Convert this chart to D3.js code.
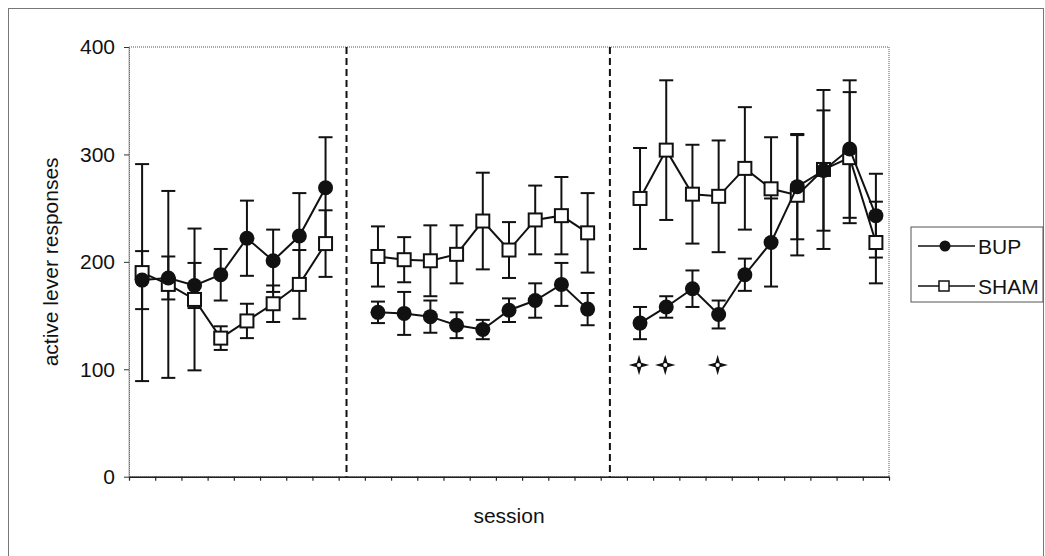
<!DOCTYPE html>
<html>
<head>
<meta charset="utf-8">
<script src="https://cdn.jsdelivr.net/npm/d3@7"></script>
<style>
  body { margin: 0; background: #fff; }
  text { font-family: "Liberation Sans", Arial, sans-serif; }
</style>
</head>
<body>
<svg width="1045" height="556"></svg>
<script>
// sessions 0..28, gaps (null) at 8 and 18 between the three phases
let bup = [183, 185, 178, 188, 222, 201, 224, 269, null,
  153, 152, 149, 141, 137, 155, 164, 179, 156, null,
  143, 158, 175, 151, 188, 218, 270, 285, 305, 243];
let bupErr = [27, 20, 21, 24, 35, 29, 40, 47, null,
  10, 20, 15, 12, 9, 11, 16, 20, 15, null,
  15, 10, 17, 13, 15, 41, 49, 56, 64, 39];
let sham = [190, 179, 165, 129, 145, 161, 179, 217, null,
  205, 202, 201, 207, 238, 211, 239, 243, 227, null,
  259, 304, 263, 261, 287, 268, 262, 286, 297, 218];
let shamErr = [101, 87, 66, 11, 16, 17, 32, 31, null,
  28, 21, 33, 27, 45, 26, 32, 36, 37, null,
  47, 65, 46, 52, 57, 48, 56, 74, 61, 38];
let dividers = [8.3, 18.35];
let sigSessions = [19, 20, 22];
let sigLevel = 104;
let yTicks = [0, 100, 200, 300, 400];
let seriesNames = ["BUP", "SHAM"];

let svg = d3.select("svg");
let margin = {top: 47, left: 129};
let width = 760, height = 429.7;
let nSessions = bup.length;

// outer frame
svg.append("rect")
  .attr("x", 8.5).attr("y", 8.5)
  .attr("width", 1035).attr("height", 570)
  .attr("fill", "none").attr("stroke", "#777").attr("stroke-width", 1);

let x = d3.scaleLinear().domain([0, nSessions]).range([margin.left, margin.left + width]);
let y = d3.scaleLinear().domain([0, 400]).range([margin.top + height, margin.top]);

// plot border (dotted)
svg.append("rect")
  .attr("x", x(0)).attr("y", y(400))
  .attr("width", width).attr("height", height)
  .attr("fill", "none").attr("stroke", "#555")
  .attr("stroke-width", 1).attr("stroke-dasharray", "1,1");

svg.append("g")
  .attr("transform", `translate(0,${y(0)})`)
  .call(d3.axisBottom(x).tickValues(d3.range(nSessions + 1)).tickFormat("")
    .tickSize(4).tickSizeOuter(0))
  .call(g => g.selectAll("line").attr("stroke", "#222").attr("stroke-width", 1.2))
  .call(g => g.select(".domain").attr("stroke", "#222").attr("stroke-width", 1.5));

svg.append("g")
  .attr("transform", `translate(${x(0)},0)`)
  .call(d3.axisLeft(y).tickValues(yTicks).tickSize(5).tickPadding(9).tickSizeOuter(0))
  .call(g => g.select(".domain").attr("stroke", "#555").attr("stroke-dasharray", "1,1"))
  .call(g => g.selectAll("line").attr("stroke", "#333"))
  .call(g => g.selectAll("text")
    .attr("font-family", "'Liberation Sans', Arial, sans-serif")
    .attr("font-size", 21).attr("fill", "#111"));

// phase dividers
svg.append("g")
  .selectAll("line").data(dividers).enter().append("line")
  .attr("x1", d => x(d)).attr("x2", d => x(d))
  .attr("y1", y(400)).attr("y2", y(0))
  .attr("stroke", "#111").attr("stroke-width", 2)
  .attr("stroke-dasharray", "7,4");

// axis titles
svg.append("text")
  .attr("x", x(nSessions / 2)).attr("y", 523)
  .attr("text-anchor", "middle").attr("font-size", 21).attr("fill", "#111")
  .text("session");

svg.append("text")
  .attr("transform", `translate(58,${y(200)}) rotate(-90)`)
  .attr("text-anchor", "middle").attr("font-size", 21).attr("fill", "#111")
  .text("active lever responses");

let toPoints = (vals, errs) => vals.map((v, i) => ({i, v, e: errs[i]}));
let bupPts = toPoints(bup, bupErr);
let shamPts = toPoints(sham, shamErr);

let line = d3.line()
  .defined(d => d.v != null)
  .x(d => x(d.i + 0.5))
  .y(d => y(d.v));

function errorBars(pts) {
  let g = svg.append("g").attr("stroke", "#111").attr("stroke-width", 2);
  let valid = pts.filter(d => d.v != null);
  g.selectAll(".stem").data(valid).enter().append("line")
    .attr("x1", d => x(d.i + 0.5)).attr("x2", d => x(d.i + 0.5))
    .attr("y1", d => y(d.v + d.e)).attr("y2", d => y(d.v - d.e));
  g.selectAll(".capT").data(valid).enter().append("line")
    .attr("x1", d => x(d.i + 0.5) - 7).attr("x2", d => x(d.i + 0.5) + 7)
    .attr("y1", d => y(d.v + d.e)).attr("y2", d => y(d.v + d.e));
  g.selectAll(".capB").data(valid).enter().append("line")
    .attr("x1", d => x(d.i + 0.5) - 7).attr("x2", d => x(d.i + 0.5) + 7)
    .attr("y1", d => y(d.v - d.e)).attr("y2", d => y(d.v - d.e));
}

errorBars(shamPts);
errorBars(bupPts);

// SHAM series: open squares
svg.append("path").datum(shamPts)
  .attr("d", line).attr("fill", "none")
  .attr("stroke", "#111").attr("stroke-width", 2);
svg.append("g")
  .selectAll("rect").data(shamPts.filter(d => d.v != null)).enter().append("rect")
  .attr("x", d => x(d.i + 0.5) - 6.5).attr("y", d => y(d.v) - 6.5)
  .attr("width", 13).attr("height", 13)
  .attr("fill", "#fff").attr("stroke", "#111").attr("stroke-width", 2);

// BUP series: filled circles
svg.append("path").datum(bupPts)
  .attr("d", line).attr("fill", "none")
  .attr("stroke", "#111").attr("stroke-width", 2);
svg.append("g")
  .selectAll("circle").data(bupPts.filter(d => d.v != null)).enter().append("circle")
  .attr("cx", d => x(d.i + 0.5)).attr("cy", d => y(d.v))
  .attr("r", 7.5).attr("fill", "#111");

// significance marks (4-point stars)
let star4 = {
  draw(ctx, size) {
    let r = Math.sqrt(size) / 2, k = r * 0.22;
    ctx.moveTo(0, -r);
    ctx.lineTo(k, -k); ctx.lineTo(r, 0); ctx.lineTo(k, k);
    ctx.lineTo(0, r); ctx.lineTo(-k, k); ctx.lineTo(-r, 0); ctx.lineTo(-k, -k);
    ctx.closePath();
  }
};
let sig = svg.append("g");
sig.selectAll("path").data(sigSessions).enter().append("path")
  .attr("transform", d => `translate(${x(d + 0.5) - 1},${y(sigLevel)})`)
  .attr("d", d3.symbol().type(star4).size(420))
  .attr("fill", "#111");
sig.selectAll("circle").data(sigSessions).enter().append("circle")
  .attr("cx", d => x(d + 0.5) - 1).attr("cy", y(sigLevel))
  .attr("r", 2).attr("fill", "#fff");

// legend
let legend = svg.append("g").attr("transform", "translate(911,227)");
legend.append("rect")
  .attr("width", 132).attr("height", 75)
  .attr("fill", "#fff").attr("stroke", "#555").attr("stroke-width", 1);
let rows = legend.selectAll("g.row").data(seriesNames).enter().append("g")
  .attr("transform", (d, i) => `translate(0,${19 + i * 40})`);
rows.append("line")
  .attr("x1", 7).attr("x2", 64).attr("y1", 0).attr("y2", 0)
  .attr("stroke", "#111").attr("stroke-width", 1.5);
rows.filter((d, i) => i === 0).append("circle")
  .attr("cx", 34).attr("cy", 0).attr("r", 5.5).attr("fill", "#111");
rows.filter((d, i) => i === 1).append("rect")
  .attr("x", 28).attr("y", -5).attr("width", 10).attr("height", 10)
  .attr("fill", "#fff").attr("stroke", "#111").attr("stroke-width", 1.5);
rows.append("text")
  .attr("x", 67).attr("y", 7.5)
  .attr("font-size", 21).attr("fill", "#111")
  .text(d => d);
</script>
</body>
</html>
